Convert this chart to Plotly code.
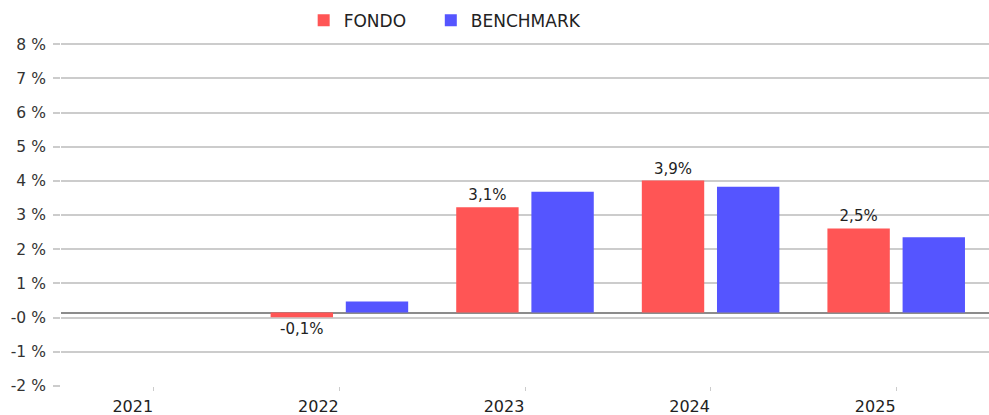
import plotly.graph_objects as go

years = ["2021", "2022", "2023", "2024", "2025"]
fondo = [None, -0.14, 3.08, 3.86, 2.46]
benchmark = [None, 0.32, 3.53, 3.68, 2.20]
fondo_labels = ["" if v is None else f"{v:.1f}%".replace(".", ",") for v in fondo]

# y tick labels as shown (grid is offset from zero by a fixed amount)
ytick_labels = ["-2 %", "-1 %", "-0 %", "1 %", "2 %", "3 %", "4 %", "5 %", "6 %", "7 %", "8 %"]
tick_offset = -0.15
ytick_vals = [i - 2 + tick_offset for i in range(len(ytick_labels))]

RED = "#ff5555"
BLUE = "#5555ff"
FONT = "DejaVu Sans"

fig = go.Figure()
fig.add_trace(go.Bar(
    x=years, y=fondo, name="FONDO", marker=dict(color=RED, line=dict(width=0)),
    text=fondo_labels, textposition="outside", cliponaxis=False,
    textfont=dict(family=FONT, size=15, color="#222222"),
    legend="legend",
))
fig.add_trace(go.Bar(
    x=years, y=benchmark, name="BENCHMARK", marker=dict(color=BLUE, line=dict(width=0)),
    legend="legend2",
))

legend_common = dict(
    orientation="h", yref="container", y=0.95, yanchor="middle", xanchor="left",
    font=dict(family=FONT, size=17, color="#222222"), bgcolor="rgba(0,0,0,0)",
)

fig.update_layout(
    width=989, height=415,
    margin=dict(l=61, r=0, t=39, b=29, autoexpand=False),
    paper_bgcolor="white", plot_bgcolor="white",
    barmode="group", bargap=0.19, bargroupgap=0.17,
    font=dict(family=FONT, color="#333333"),
    showlegend=True,
    legend=dict(x=0.2615, **legend_common),
    legend2=dict(x=0.3985, **legend_common),
    xaxis=dict(
        type="category", showgrid=False, zeroline=False, showline=False,
        ticks="outside", ticklen=4, tickcolor="#cccccc", tickwidth=1,
        tickfont=dict(family=FONT, size=16, color="#222222"),
        ticklabelshift=-21, ticklabelstandoff=2, automargin=False,
    ),
    yaxis=dict(
        range=[-2.15, 8.0], tickmode="array", tickvals=ytick_vals, ticktext=ytick_labels,
        showgrid=True, gridcolor="#cccccc", gridwidth=1.5,
        zeroline=True, zerolinecolor="#8c8c8c", zerolinewidth=2,
        ticks="outside", ticklen=7, tickcolor="#cccccc", tickwidth=1.5,
        tickfont=dict(family=FONT, size=15.5, color="#333333"),
        ticklabelstandoff=4, showline=False, automargin=False,
    ),
)
fig.write_html(
    "out.html",
    config={"displayModeBar": False},
    post_script="document.body.style.margin='0';document.body.style.overflow='hidden';",
)
